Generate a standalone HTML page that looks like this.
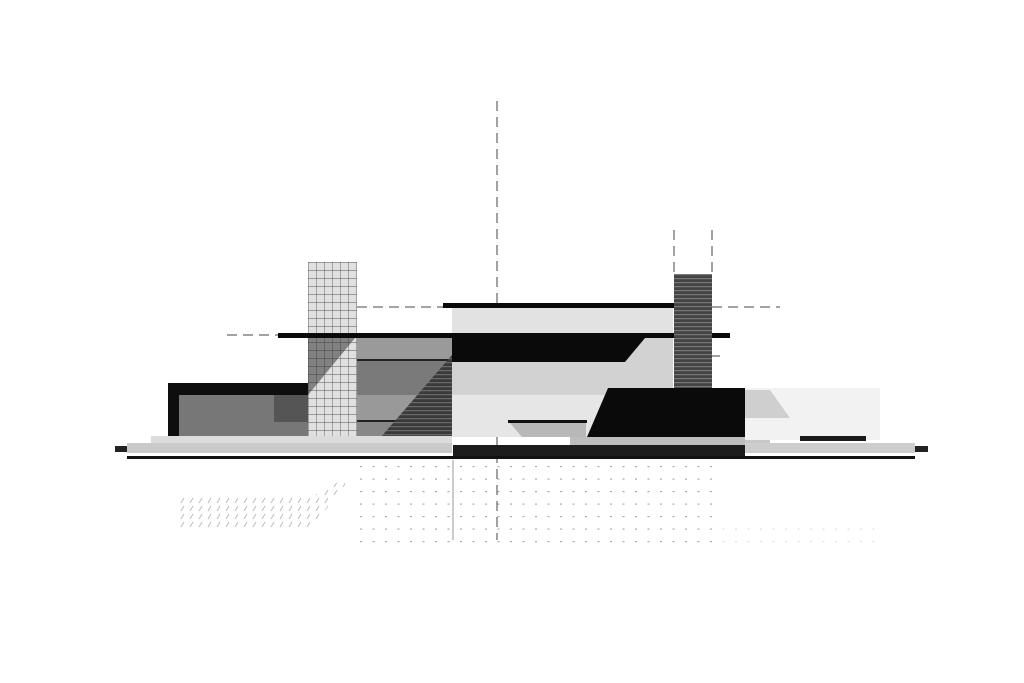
<!DOCTYPE html>
<html><head><meta charset="utf-8"><style>html,body{margin:0;padding:0;background:#fff}svg{display:block}</style></head>
<body>
<svg width="1024" height="683" viewBox="0 0 1024 683" xmlns="http://www.w3.org/2000/svg">
<defs>
<pattern id="grid" x="308" y="262" width="8" height="8" patternUnits="userSpaceOnUse">
<rect width="8" height="8" fill="#e0e0e0"/><path d="M0 0H8M0 0V8" stroke="#555" stroke-width="0.9"/></pattern>
<pattern id="hs" x="0" y="0" width="4" height="4" patternUnits="userSpaceOnUse">
<rect width="4" height="4" fill="#3a3a3a"/><rect y="2" width="4" height="1.2" fill="#6a6a6a"/></pattern>
<pattern id="hs2" x="0" y="0" width="4" height="4" patternUnits="userSpaceOnUse">
<rect width="4" height="4" fill="#444"/><rect y="2" width="4" height="1.2" fill="#777"/></pattern>
<pattern id="dots" x="360" y="466" width="12.5" height="12.5" patternUnits="userSpaceOnUse">
<rect x="0" y="0" width="2" height="1.2" fill="#aaa"/></pattern>
<pattern id="hatch" x="0" y="0" width="9" height="8" patternUnits="userSpaceOnUse">
<path d="M1 7L4 2" stroke="#bbb" stroke-width="1"/></pattern>
</defs>
<g stroke="#444" stroke-width="1" stroke-dasharray="10,6" fill="none">
<path d="M497 101V540"/>
<path d="M674 230V274M712 230V274"/>
<path d="M357 307H443M712 307H780"/>
<path d="M227 335H278"/>
<path d="M630 356H720"/>
<path d="M452 384H673" stroke="#777"/>
</g>
<rect x="168" y="383" width="140" height="54" fill="#0e0e0e"/>
<rect x="179" y="395" width="129" height="42" fill="#777"/>
<rect x="274" y="395" width="34" height="27" fill="#555"/>
<rect x="308" y="262" width="49" height="175" fill="url(#grid)"/>
<polygon points="308,338 355,338 308,395" fill="#333" opacity="0.55"/>
<rect x="357" y="338" width="95" height="99" fill="#888"/>
<rect x="357" y="338" width="95" height="21" fill="#9a9a9a"/>
<rect x="357" y="359" width="95" height="2" fill="#222"/>
<rect x="357" y="361" width="95" height="34" fill="#7a7a7a"/>
<rect x="357" y="395" width="95" height="25" fill="#999"/>
<rect x="357" y="420" width="95" height="2" fill="#222"/>
<polygon points="452,355 452,437 381,437" fill="url(#hs)"/>
<rect x="452" y="308" width="221" height="25" fill="#e2e2e2"/>
<rect x="443" y="303" width="231" height="5" fill="#0a0a0a"/>
<rect x="452" y="338" width="221" height="99" fill="#e6e6e6"/>
<rect x="452" y="338" width="221" height="57" fill="#d2d2d2"/>
<polygon points="452,338 645,338 625,362 452,362" fill="#0a0a0a"/>
<rect x="278" y="333" width="452" height="5" fill="#0a0a0a"/>
<rect x="674" y="274" width="38" height="114" fill="url(#hs2)"/>
<polygon points="608,388 745,388 745,437 587,437" fill="#0a0a0a"/>
<rect x="508" y="420" width="79" height="3" fill="#111"/>
<polygon points="510,423 586,423 586,437 522,437" fill="#b8b8b8"/>
<rect x="570" y="437" width="175" height="8" fill="#bdbdbd"/>
<rect x="745" y="388" width="135" height="52" fill="#f2f2f2"/>
<polygon points="745,390 770,390 790,418 745,418" fill="#cfcfcf"/>
<rect x="800" y="436" width="66" height="5" fill="#1a1a1a"/>
<rect x="151" y="436" width="301" height="7" fill="#dcdcdc"/>
<rect x="127" y="443" width="325" height="10" fill="#cacaca"/>
<rect x="745" y="440" width="25" height="5" fill="#c8c8c8"/>
<rect x="745" y="443" width="170" height="10" fill="#cdcdcd"/>
<rect x="453" y="445" width="292" height="14" fill="#1c1c1c"/>
<rect x="127" y="456" width="788" height="3" fill="#111"/>
<rect x="115" y="446" width="12" height="6" fill="#222"/>
<rect x="915" y="446" width="13" height="6" fill="#222"/>
<rect x="358" y="464" width="356" height="80" fill="url(#dots)"/>
<rect x="720" y="520" width="160" height="22" fill="url(#dots)" opacity="0.4"/>
<polygon points="175,495 315,495 345,478 345,485 310,530 175,530" fill="url(#hatch)"/>
<path d="M453 460V540" stroke="#999" stroke-width="1"/>
</svg>
</body></html>
